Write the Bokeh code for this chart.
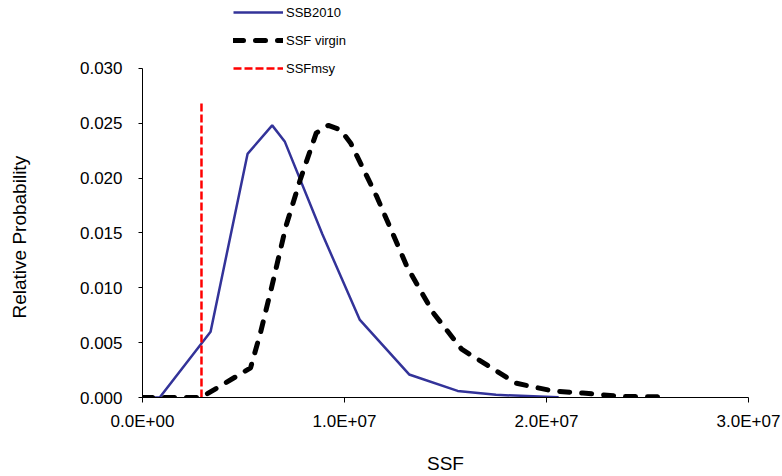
from bokeh.plotting import figure
from bokeh.models import Range1d, FixedTicker, NumeralTickFormatter, Legend, LegendItem, Title
from bokeh.embed import file_html
from bokeh.resources import INLINE

# ---- data ----
ssb2010_x = [0.0, 0.85e6, 3.37e6, 5.2e6, 6.42e6, 7.05e6, 8.9e6, 10.75e6, 13.2e6, 15.6e6, 17.5e6, 20.6e6]
ssb2010_y = [0.0, 0.0, 0.0060, 0.0222, 0.0248, 0.0233, 0.0149, 0.0071, 0.0021, 0.0006, 0.00024, 0.00003]

virgin_x = [0.0, 2.9e6, 5.35e6, 5.84e6, 6.4e6, 7.1e6, 7.8e6, 8.6e6, 9.2e6, 9.8e6, 10.3e6,
            11.6e6, 13.1e6, 14.4e6, 15.8e6, 18.5e6, 20.3e6, 21.8e6, 23.7e6, 26.05e6]
virgin_y = [0.0, 0.0, 0.0027, 0.0059, 0.0101, 0.0156, 0.0198, 0.0241, 0.0248, 0.0244, 0.0232,
            0.0183, 0.0119, 0.0077, 0.0044, 0.0013, 0.0006, 0.0004, 0.0001, 0.00005]

ssfmsy_x = [2.92e6, 2.92e6]
ssfmsy_y = [0.0, 0.027]

x_ticks = [0, 1e7, 2e7, 3e7]
x_tick_labels = ["0.0E+00", "1.0E+07", "2.0E+07", "3.0E+07"]
y_ticks = [0.0, 0.005, 0.010, 0.015, 0.020, 0.025, 0.030]

series_names = ["SSB2010", "SSF virgin", "SSFmsy"]
x_title = "SSF"
y_title = "Relative Probability"

FONT = "Liberation Sans"

# frame extends above the 0.030 tick so the legend can sit inside it;
# the y axis line itself is bounded to 0..0.030
p = figure(width=782, height=476, output_backend="svg", toolbar_location=None,
           x_range=Range1d(0, 3e7), y_range=Range1d(0, 0.036),
           min_border_left=142, min_border_right=34, min_border_top=2, min_border_bottom=78)
p.outline_line_color = None
p.xgrid.visible = False
p.ygrid.visible = False
p.background_fill_color = "white"
p.border_fill_color = "white"

r_ssb = p.line(ssb2010_x, ssb2010_y, line_color="#333399", line_width=2.5)
r_vir = p.line(virgin_x, virgin_y, line_color="black", line_width=5, line_dash="10 12",
               line_cap="round", line_join="round")
r_msy = p.line(ssfmsy_x, ssfmsy_y, line_color="#ff0000", line_width=2.5, line_dash="8 3")

# axes
xa = p.xaxis[0]
xa.ticker = FixedTicker(ticks=x_ticks, minor_ticks=[])
xa.major_label_overrides = {t: l for t, l in zip(x_ticks, x_tick_labels)}
xa.axis_label = x_title
xa.major_tick_out = 5
xa.major_tick_in = 0
xa.minor_tick_out = 0
xa.minor_tick_in = 0
xa.major_label_standoff = 9
xa.axis_label_standoff = 19

ya = p.yaxis[0]
ya.ticker = FixedTicker(ticks=y_ticks, minor_ticks=[])
ya.formatter = NumeralTickFormatter(format="0.000")
ya.bounds = (0, 0.03)
ya.major_tick_out = 4
ya.major_tick_in = 0
ya.minor_tick_out = 0
ya.minor_tick_in = 0
ya.major_label_standoff = 16
ya.axis_label = " "          # spacer so the title below sits at the far left
ya.axis_label_standoff = 23

for ax in (xa, ya):
    ax.axis_line_color = "black"
    ax.axis_line_width = 1
    ax.major_tick_line_color = "black"
    ax.major_label_text_font = FONT
    ax.major_label_text_font_size = "17px"
    ax.major_label_text_color = "black"
    ax.axis_label_text_font = FONT
    ax.axis_label_text_font_size = "19px"
    ax.axis_label_text_font_style = "normal"
    ax.axis_label_text_color = "black"

# y title, centred on the 0..0.030 span rather than on the whole frame
yt = Title(text=y_title, align="left", offset=79, vertical_align="bottom", standoff=0,
           text_font=FONT, text_font_size="19px", text_font_style="normal", text_color="black")
p.add_layout(yt, "left")

legend = Legend(items=[LegendItem(label=series_names[0], renderers=[r_ssb]),
                       LegendItem(label=series_names[1], renderers=[r_vir]),
                       LegendItem(label=series_names[2], renderers=[r_msy])],
                location=(91, 321), orientation="vertical")
legend.padding = 0
legend.margin = 0
legend.spacing = 12
legend.glyph_width = 50
legend.glyph_height = 16
legend.label_height = 16
legend.label_standoff = 3
legend.label_text_font = FONT
legend.label_text_font_size = "13px"
legend.label_text_color = "black"
legend.border_line_alpha = 0
legend.background_fill_alpha = 0
p.add_layout(legend, "center")

open("out.html", "w").write(file_html(p, INLINE))
